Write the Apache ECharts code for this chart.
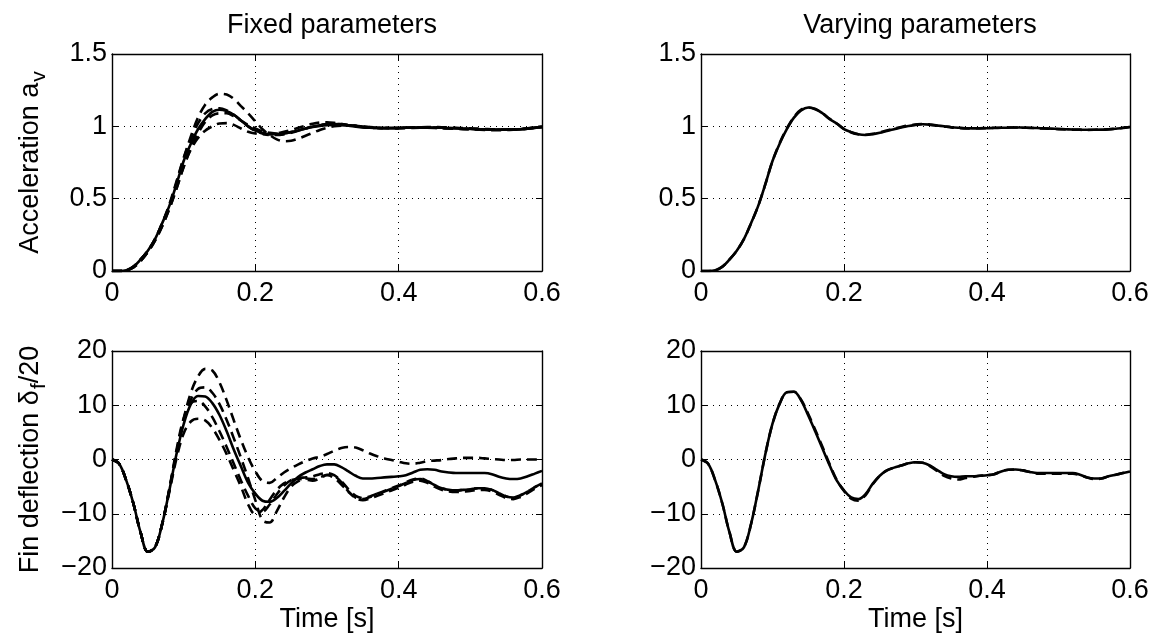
<!DOCTYPE html>
<html>
<head>
<meta charset="utf-8">
<script src="https://cdn.jsdelivr.net/npm/echarts@6/dist/echarts.min.js"></script>
<style>
  html, body { margin: 0; padding: 0; background: #fff; }
  #chart { width: 1155px; height: 635px; }
</style>
</head>
<body>
<div id="chart"></div>
<script>
// time base [s]
var time = [
  0, 0.01, 0.02, 0.03, 0.04, 0.05, 0.06, 0.07, 0.08, 0.09,
  0.1, 0.11, 0.12, 0.13, 0.14, 0.15, 0.16, 0.17, 0.18, 0.19,
  0.2, 0.21, 0.22, 0.23, 0.24, 0.25, 0.26, 0.27, 0.28, 0.29,
  0.3, 0.31, 0.32, 0.33, 0.34, 0.35, 0.36, 0.37, 0.38, 0.39,
  0.4, 0.41, 0.42, 0.43, 0.44, 0.45, 0.46, 0.47, 0.48, 0.49,
  0.5, 0.51, 0.52, 0.53, 0.54, 0.55, 0.56, 0.57, 0.58, 0.59,
  0.6
];

var xTicks = [0, 0.2, 0.4, 0.6];
var accTicks = [0, 0.5, 1, 1.5];
var finTicks = [-20, -10, 0, 10, 20];

// --- fixed parameters: acceleration ---
var accNomFixed = [
  0, 0, 0.005, 0.03, 0.08, 0.14, 0.22, 0.33, 0.45, 0.60,
  0.76, 0.88, 0.98, 1.05, 1.10, 1.115, 1.105, 1.08, 1.04, 1.0,
  0.97, 0.955, 0.945, 0.945, 0.95, 0.96, 0.972, 0.985, 0.995, 1.003,
  1.008, 1.01, 1.008, 1.004, 0.998, 0.993, 0.99, 0.988, 0.987, 0.987,
  0.988, 0.99, 0.99, 0.991, 0.991, 0.99, 0.99, 0.988, 0.987, 0.985,
  0.983, 0.981, 0.979, 0.978, 0.977, 0.977, 0.978, 0.98, 0.984, 0.99,
  0.996
];
var accFixedA = [
  0, 0, 0.005, 0.03, 0.08, 0.14, 0.22, 0.33, 0.45, 0.61,
  0.78, 0.93, 1.06, 1.15, 1.20, 1.225, 1.22, 1.19, 1.14, 1.09,
  1.035, 0.98, 0.94, 0.91, 0.897, 0.90, 0.915, 0.935, 0.955, 0.975,
  0.99, 1.0, 1.005, 1.007, 1.005, 1.0, 0.995, 0.99, 0.987, 0.986,
  0.986, 0.987, 0.989, 0.99, 0.99, 0.989, 0.987, 0.985, 0.983, 0.981,
  0.979, 0.977, 0.975, 0.974, 0.973, 0.974, 0.976, 0.979, 0.983, 0.988,
  0.994
];
var accFixedB = [
  0, 0, 0.005, 0.03, 0.08, 0.14, 0.22, 0.33, 0.46, 0.62,
  0.78, 0.91, 1.02, 1.09, 1.12, 1.125, 1.11, 1.08, 1.04, 1.0,
  0.97, 0.95, 0.94, 0.94, 0.945, 0.955, 0.97, 0.985, 0.998, 1.008,
  1.015, 1.017, 1.015, 1.01, 1.004, 0.998, 0.994, 0.991, 0.99, 0.99,
  0.99, 0.991, 0.992, 0.993, 0.993, 0.992, 0.99, 0.988, 0.986, 0.984,
  0.982, 0.98, 0.978, 0.977, 0.976, 0.976, 0.977, 0.98, 0.985, 0.991,
  0.997
];
var accFixedC = [
  0, 0, 0.004, 0.025, 0.07, 0.13, 0.21, 0.31, 0.43, 0.57,
  0.72, 0.85, 0.95, 1.03, 1.075, 1.09, 1.09, 1.07, 1.04, 1.01,
  0.985, 0.965, 0.955, 0.95, 0.952, 0.96, 0.972, 0.985, 0.997, 1.007,
  1.013, 1.015, 1.013, 1.008, 1.002, 0.996, 0.992, 0.99, 0.989, 0.989,
  0.99, 0.991, 0.992, 0.992, 0.991, 0.99, 0.988, 0.986, 0.984, 0.982,
  0.98, 0.978, 0.977, 0.976, 0.976, 0.977, 0.979, 0.982, 0.987, 0.993,
  0.999
];
var accFixedD = [
  0, 0, 0.004, 0.025, 0.07, 0.13, 0.21, 0.31, 0.43, 0.57,
  0.72, 0.84, 0.92, 0.97, 1.0, 1.02, 1.022, 1.01, 0.985, 0.962,
  0.95, 0.945, 0.946, 0.952, 0.962, 0.975, 0.99, 1.005, 1.018, 1.026,
  1.028, 1.024, 1.016, 1.008, 1.0, 0.994, 0.99, 0.988, 0.987, 0.987,
  0.988, 0.99, 0.992, 0.994, 0.995, 0.995, 0.994, 0.992, 0.99, 0.988,
  0.986, 0.984, 0.982, 0.98, 0.979, 0.978, 0.979, 0.981, 0.984, 0.989,
  0.995
];

// --- fixed parameters: fin deflection ---
var finNomFixed = [
  0, -0.8, -3.9, -8.2, -13.5, -17.0, -16.2, -11.9, -5.7, 1.0,
  6.5, 10.2, 11.7, 11.6, 10.4, 8.2, 5.2, 1.8, -1.3, -4.3,
  -6.3, -7.6, -7.8, -7.1, -5.8, -4.4, -3.2, -2.4, -1.8, -1.2,
  -0.9, -0.9, -1.4, -2.2, -3.0, -3.5, -3.5, -3.4, -3.3, -3.2,
  -3.1, -2.9, -2.4, -1.9, -1.8, -1.9, -2.2, -2.4, -2.5, -2.5,
  -2.5, -2.5, -2.5, -2.7, -3.2, -3.5, -3.6, -3.5, -3.1, -2.6,
  -2.1
];
var finFixedA = [
  0, -0.8, -3.9, -8.2, -13.5, -17.0, -16.2, -11.9, -5.5, 1.4,
  7.5, 12.3, 15.3, 16.7, 16.4, 14.2, 10.9, 7.2, 3.6, 0.4,
  -2.2, -4.0, -4.3, -3.4, -2.4, -1.6, -0.9, -0.3, 0.2, 0.5,
  1.0, 1.6, 2.1, 2.3, 2.2, 1.7, 1.1, 0.6, 0.2, -0.1,
  -0.4, -0.7, -0.8, -0.6, -0.3, -0.2, -0.1, 0.1, 0.2, 0.3,
  0.3, 0.3, 0.2, 0.1, 0.0, -0.1, -0.1, 0.0, 0.0, 0.0,
  0.0
];
var finFixedB = [
  0, -0.8, -3.9, -8.2, -13.5, -17.0, -16.2, -11.9, -5.6, 1.2,
  7.0, 11.0, 13.0, 13.3, 12.3, 10.2, 7.3, 3.9, 0.3, -3.5,
  -7.5, -11.2, -11.6, -9.5, -7.0, -5.0, -4.0, -3.5, -3.6, -3.3,
  -2.8, -3.0, -4.2, -5.9, -7.1, -7.5, -7.2, -6.7, -6.2, -5.7,
  -5.2, -4.6, -4.1, -3.9, -4.3, -5.0, -5.6, -5.9, -6.0, -5.9,
  -5.8, -5.6, -5.6, -5.9, -6.5, -7.1, -7.3, -6.9, -6.2, -5.4,
  -4.7
];
var finFixedC = [
  0, -0.8, -3.9, -8.2, -13.5, -17.0, -16.2, -11.9, -5.4, 1.8,
  7.6, 10.4, 10.8, 9.8, 7.8, 5.2, 2.3, -0.8, -3.9, -6.7,
  -9.0, -9.6, -8.3, -6.4, -4.8, -3.8, -3.4, -3.3, -3.1, -2.7,
  -2.5, -2.9, -4.0, -5.5, -6.7, -7.1, -6.8, -6.3, -5.9, -5.4,
  -4.9, -4.3, -3.8, -3.6, -4.0, -4.7, -5.3, -5.6, -5.7, -5.6,
  -5.5, -5.3, -5.3, -5.6, -6.2, -6.8, -7.0, -6.6, -5.9, -5.1,
  -4.4
];
var finFixedD = [
  0, -0.8, -3.9, -8.2, -13.5, -17.0, -16.2, -11.9, -6.0, 0.2,
  4.8, 7.0, 7.5, 7.2, 5.8, 3.6, 1.0, -2.0, -5.0, -8.3,
  -10.1, -9.3, -7.4, -5.6, -4.4, -3.8, -3.6, -3.7, -3.9, -3.5,
  -2.9, -3.4, -4.6, -6.0, -7.0, -7.3, -6.9, -6.3, -5.8, -5.3,
  -4.8, -4.2, -3.7, -3.5, -4.0, -4.7, -5.3, -5.6, -5.7, -5.6,
  -5.5, -5.3, -5.3, -5.6, -6.2, -6.8, -7.0, -6.6, -5.9, -5.1,
  -4.4
];

// --- varying parameters ---
var accNomVar = [
  0, 0, 0.005, 0.03, 0.08, 0.14, 0.22, 0.33, 0.45, 0.60,
  0.76, 0.88, 0.98, 1.06, 1.11, 1.13, 1.12, 1.09, 1.05, 1.02,
  0.98, 0.96, 0.945, 0.94, 0.945, 0.955, 0.968, 0.98, 0.992, 1.002,
  1.01, 1.014, 1.012, 1.006, 1.0, 0.994, 0.99, 0.987, 0.986, 0.986,
  0.987, 0.988, 0.99, 0.991, 0.992, 0.991, 0.99, 0.988, 0.986, 0.984,
  0.982, 0.98, 0.978, 0.977, 0.976, 0.976, 0.977, 0.979, 0.983, 0.989,
  0.995
];
var accVarDashed = [
  0, 0, 0.005, 0.03, 0.08, 0.14, 0.22, 0.33, 0.45, 0.60,
  0.76, 0.885, 0.985, 1.065, 1.115, 1.13, 1.118, 1.09, 1.052, 1.018,
  0.982, 0.958, 0.945, 0.942, 0.948, 0.958, 0.972, 0.985, 0.996, 1.006,
  1.012, 1.016, 1.012, 1.005, 0.999, 0.993, 0.989, 0.986, 0.986, 0.987,
  0.988, 0.99, 0.991, 0.992, 0.992, 0.991, 0.989, 0.987, 0.985, 0.983,
  0.981, 0.979, 0.977, 0.976, 0.975, 0.976, 0.978, 0.98, 0.984, 0.99,
  0.996
];
var finNomVar = [
  0, -0.8, -3.9, -8.2, -13.5, -17.0, -16.2, -11.9, -5.7, 1.0,
  6.6, 10.3, 12.4, 12.5, 10.9, 8.1, 5.1, 2.0, -1.1, -3.9,
  -5.7, -7.0, -7.3, -6.4, -4.5, -3.0, -2.0, -1.5, -1.1, -0.7,
  -0.5, -0.6, -1.1, -1.9, -2.7, -3.1, -3.2, -3.1, -3.1, -3.0,
  -2.9, -2.7, -2.2, -1.9, -1.85, -2.0, -2.3, -2.5, -2.5, -2.5,
  -2.5, -2.5, -2.5, -2.8, -3.3, -3.5, -3.5, -3.1, -2.8, -2.5,
  -2.2
];
var finVarDashed = [
  0, -0.8, -3.9, -8.2, -13.5, -17.0, -16.2, -11.9, -5.7, 1.0,
  6.6, 10.3, 12.4, 12.5, 11.0, 8.4, 5.4, 2.3, -0.9, -3.8,
  -5.8, -7.2, -7.6, -6.6, -4.6, -3.0, -2.0, -1.5, -1.1, -0.7,
  -0.5, -0.6, -1.2, -2.1, -3.0, -3.5, -3.7, -3.4, -3.2, -3.0,
  -2.9, -2.7, -2.2, -1.9, -1.85, -2.0, -2.3, -2.6, -2.6, -2.6,
  -2.6, -2.6, -2.6, -2.9, -3.3, -3.6, -3.5, -3.1, -2.8, -2.5,
  -2.1
];

var FONT = '"Liberation Sans", Arial, Helvetica, sans-serif';
var FS = 27;

var panels = [
  { left: 112, top: 54, width: 430, height: 217, y: accTicks, solid: accNomFixed, dashed: [accFixedA, accFixedB, accFixedC, accFixedD] },
  { left: 701, top: 54, width: 429, height: 217, y: accTicks, solid: accNomVar, dashed: [accVarDashed] },
  { left: 112, top: 351, width: 430, height: 217, y: finTicks, solid: finNomFixed, dashed: [finFixedA, finFixedB, finFixedC, finFixedD] },
  { left: 701, top: 351, width: 429, height: 217, y: finTicks, solid: finNomVar, dashed: [finVarDashed] }
];

function pairs(vals) {
  return time.map(function (t, i) { return [t, vals[i]]; });
}

var grids = [], xAxes = [], yAxes = [], series = [];
var frame = { show: true, onZero: false, lineStyle: { color: '#000', width: 1.4 } };
var tick = { show: true, inside: true, length: 6, lineStyle: { color: '#000', width: 1 } };
var grid = { show: true, lineStyle: { color: '#000', width: 1, type: [1, 5] } };
var label = { color: '#000', fontSize: FS, fontFamily: FONT };

panels.forEach(function (p, i) {
  grids.push({ left: p.left, top: p.top, width: p.width, height: p.height, outerBoundsMode: 'none' });
  var yMin = p.y[0], yMax = p.y[p.y.length - 1], yStep = p.y[1] - p.y[0];
  var bottomRow = i >= 2;
  var xMain = xAxes.length;
  xAxes.push({
    type: 'value', gridIndex: i, position: 'bottom',
    min: xTicks[0], max: xTicks[xTicks.length - 1], interval: xTicks[1] - xTicks[0],
    axisLine: frame, axisTick: tick, splitLine: grid,
    axisLabel: Object.assign({ margin: 9 }, label),
    name: bottomRow ? 'Time [s]' : '', nameLocation: 'middle', nameGap: 38,
    nameTextStyle: { color: '#000', fontSize: FS, fontFamily: FONT }
  });
  xAxes.push({
    type: 'value', gridIndex: i, position: 'top',
    min: xTicks[0], max: xTicks[xTicks.length - 1], interval: xTicks[1] - xTicks[0],
    axisLine: frame, axisTick: tick, splitLine: { show: false }, axisLabel: { show: false }
  });
  var yMain = yAxes.length;
  var yName = '';
  if (i === 0) yName = '{n|Acceleration a}{s|v}';
  if (i === 2) yName = '{n|Fin deflection \u03b4}{s|f}{n|/20}';
  yAxes.push({
    type: 'value', gridIndex: i, position: 'left',
    min: yMin, max: yMax, interval: yStep,
    axisLine: frame, axisTick: tick, splitLine: grid,
    axisLabel: Object.assign({
      margin: 5,
      formatter: function (v) { return String(v).replace('-', '\u2212'); }
    }, label),
    name: yName, nameLocation: 'middle', nameRotate: 90, nameGap: 62,
    nameTextStyle: {
      color: '#000', fontFamily: FONT,
      rich: {
        n: { fontSize: FS, fontFamily: FONT, color: '#000' },
        s: { fontSize: 21, fontFamily: FONT, color: '#000', padding: [17, 0, 0, 1] }
      }
    }
  });
  yAxes.push({
    type: 'value', gridIndex: i, position: 'right',
    min: yMin, max: yMax, interval: yStep,
    axisLine: frame, axisTick: tick, splitLine: { show: false }, axisLabel: { show: false }
  });
  p.dashed.forEach(function (d) {
    series.push({
      type: 'line', xAxisIndex: xMain, yAxisIndex: yMain, data: pairs(d),
      showSymbol: false, smooth: 0.35,
      lineStyle: { color: '#000', width: 2.6, type: [10, 6] }
    });
  });
  series.push({
    type: 'line', xAxisIndex: xMain, yAxisIndex: yMain, data: pairs(p.solid),
    showSymbol: false, smooth: 0.35,
    lineStyle: { color: '#000', width: 2.6, type: 'solid' }
  });
});

var chart = echarts.init(document.getElementById('chart'), null, { renderer: 'canvas' });
chart.setOption({
  animation: false,
  backgroundColor: '#fff',
  title: [
    { text: 'Fixed parameters', left: 327, top: 7, textAlign: 'center',
      textStyle: { color: '#000', fontSize: FS, fontWeight: 'normal', fontFamily: FONT } },
    { text: 'Varying parameters', left: 915, top: 7, textAlign: 'center',
      textStyle: { color: '#000', fontSize: FS, fontWeight: 'normal', fontFamily: FONT } }
  ],
  grid: grids,
  xAxis: xAxes,
  yAxis: yAxes,
  series: series
});
</script>
</body>
</html>
